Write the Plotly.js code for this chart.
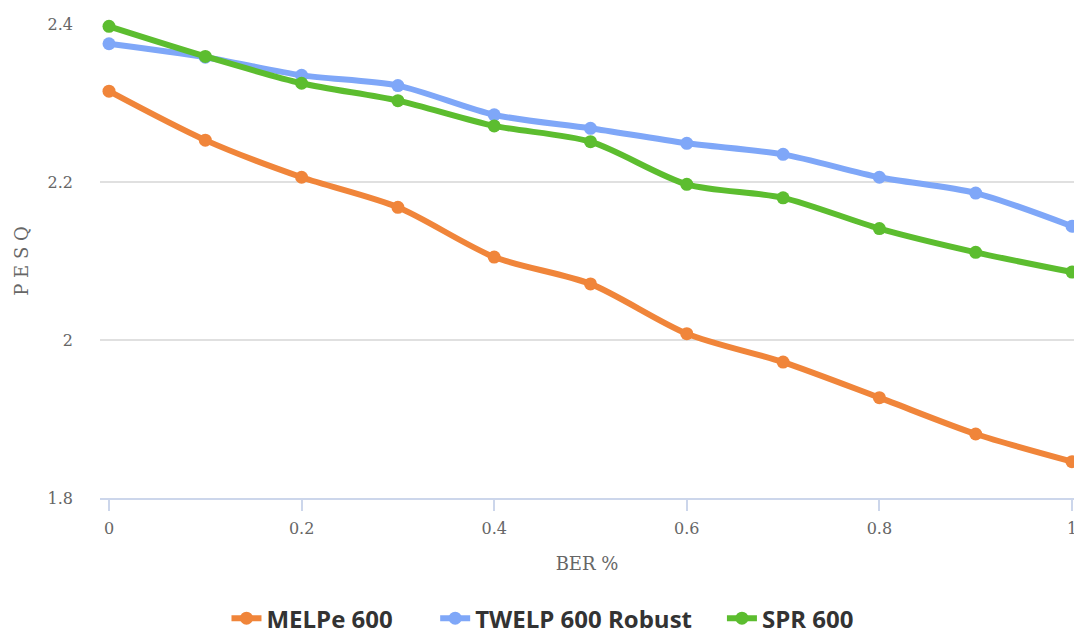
<!DOCTYPE html>
<html>
<head>
<meta charset="utf-8">
<script src="https://cdn.plot.ly/plotly-3.0.1.min.js"></script>
<style>html,body{margin:0;padding:0;background:#fff;}#chart{width:1074px;height:632px;}</style>
</head>
<body>
<div id="chart"></div>
<script>
const ber = [0, 0.1, 0.2, 0.3, 0.4, 0.5, 0.6, 0.7, 0.8, 0.9, 1.0];
const melpe600 = [2.315, 2.253, 2.206, 2.168, 2.105, 2.071, 2.008, 1.972, 1.927, 1.881, 1.846];
const twelp600Robust = [2.375, 2.358, 2.335, 2.322, 2.285, 2.268, 2.249, 2.235, 2.206, 2.186, 2.144];
const spr600 = [2.397, 2.359, 2.325, 2.303, 2.271, 2.251, 2.197, 2.180, 2.141, 2.111, 2.086];
const seriesNames = ["MELPe 600", "TWELP 600 Robust", "SPR 600"];
const seriesColors = ["#F0853A", "#7FA7F8", "#5CBD2F"];
const xTicks = [0, 0.2, 0.4, 0.6, 0.8, 1];
const xTickText = ["0", "0.2", "0.4", "0.6", "0.8", "1"];
const yTicks = [1.8, 2.0, 2.2, 2.4];
const yTickText = ["1.8", "2", "2.2", "2.4"];

const pads = ['\u00A0'.repeat(6), '\u00A0'.repeat(4), ''];
const data = [melpe600, twelp600Robust, spr600].map((ys, i) => ({
  x: ber, y: ys, name: seriesNames[i] + pads[i], type: 'scatter', mode: 'lines+markers',
  line: {color: seriesColors[i], width: 6, shape: 'spline', smoothing: 0.8},
  marker: {color: seriesColors[i], size: 13},
  cliponaxis: false
}));

const serif = '"DejaVu Serif", "Liberation Serif", serif';
const layout = {
  width: 1074, height: 632,
  margin: {l: 100, r: 0, t: 24, b: 134, autoexpand: false},
  paper_bgcolor: '#fff', plot_bgcolor: '#fff',
  showlegend: true,
  legend: {orientation: 'h', x: 0.4543, xanchor: 'center', y: -0.207, yanchor: 'top',
    font: {family: '"Open Sans", "Noto Sans", sans-serif', size: 24, color: '#333', weight: 'bold'},
    itemwidth: 30, traceorder: 'normal'},
  xaxis: {
    range: [-0.00935, 1.0021], tickvals: xTicks, ticktext: xTickText,
    automargin: false, ticklabeloverflow: 'allow',
    showgrid: false, zeroline: false,
    showline: true, linecolor: '#ccd6eb', linewidth: 2,
    ticks: 'outside', ticklen: 11, tickcolor: '#ccd6eb', tickwidth: 2,
    tickfont: {family: serif, size: 16, color: '#666'},
    ticklabelstandoff: 4,
    title: {text: 'BER %', font: {family: serif, size: 18, color: '#666'}, standoff: 20}
  },
  yaxis: {
    range: [1.8, 2.4], tickvals: yTicks, ticktext: yTickText,
    automargin: false,
    showgrid: true, gridcolor: '#e0e0e0', gridwidth: 1.5, zeroline: false,
    showline: false, ticks: '',
    tickfont: {family: serif, size: 16, color: '#666'},
    ticklabelstandoff: 26,
    title: {text: 'P E S Q', font: {family: serif, size: 18, color: '#666'}, standoff: 14}
  }
};
Plotly.newPlot('chart', data, layout, {displayModeBar: false, staticPlot: true});
</script>
</body>
</html>
